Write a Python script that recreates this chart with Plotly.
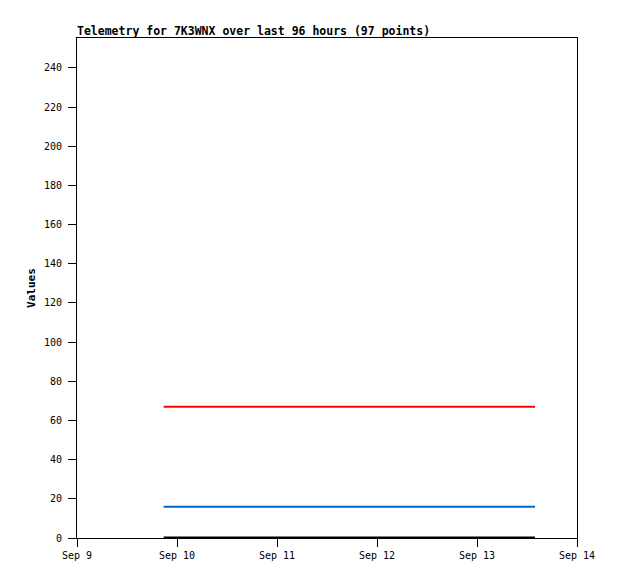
import plotly.graph_objects as go

times = ["2023-09-09 20:48", "2023-09-10 18:00", "2023-09-11 18:00", "2023-09-12 18:00", "2023-09-13 13:55"]
red_vals = [67, 67, 67, 67, 67]
blue_vals = [16, 16, 16, 16, 16]
black_vals = [0.3, 0.3, 0.3, 0.3, 0.3]
x_ticks = ["2023-09-09", "2023-09-10", "2023-09-11", "2023-09-12", "2023-09-13", "2023-09-14"]
x_labels = ["Sep 9", "Sep 10", "Sep 11", "Sep 12", "Sep 13", "Sep 14"]
y_ticks = list(range(0, 241, 20))

fig = go.Figure()
for vals, col in [(red_vals, "#ff0000"), (blue_vals, "#0066cc"), (black_vals, "#000000")]:
    fig.add_trace(go.Scatter(x=times, y=vals, mode="lines", line=dict(color=col, width=2), showlegend=False))

mono = "DejaVu Sans Mono"
W, H = 610, 571
fig.update_layout(
    width=W, height=H,
    margin=dict(l=69, r=41, t=30, b=41),
    plot_bgcolor="white", paper_bgcolor="white",
    title=dict(text="<b>Telemetry for 7K3WNX over last 96 hours (97 points)</b>",
               x=69/W, xanchor="left", y=1-23/H, yanchor="middle",
               font=dict(family=mono, size=11.5, color="black")),
    font=dict(family=mono, size=10, color="black"),
)
fig.update_xaxes(range=["2023-09-09", "2023-09-14"], tickvals=x_ticks, ticktext=x_labels,
                 showgrid=False, zeroline=False, showline=True, linecolor="black", linewidth=1,
                 mirror=True, ticks="outside", ticklen=8, tickcolor="black", tickwidth=1,
                 tickfont=dict(family=mono, size=10))
fig.update_yaxes(range=[0, 255.3], tickvals=y_ticks,
                 showgrid=False, zeroline=False, showline=True, linecolor="black", linewidth=1,
                 mirror=True, ticks="outside", ticklen=8, tickcolor="black", tickwidth=1,
                 ticklabelstandoff=4,
                 tickfont=dict(family=mono, size=10),
                 title=dict(text="<b>Values</b>", font=dict(family=mono, size=11), standoff=6))
fig.write_html("out.html")
